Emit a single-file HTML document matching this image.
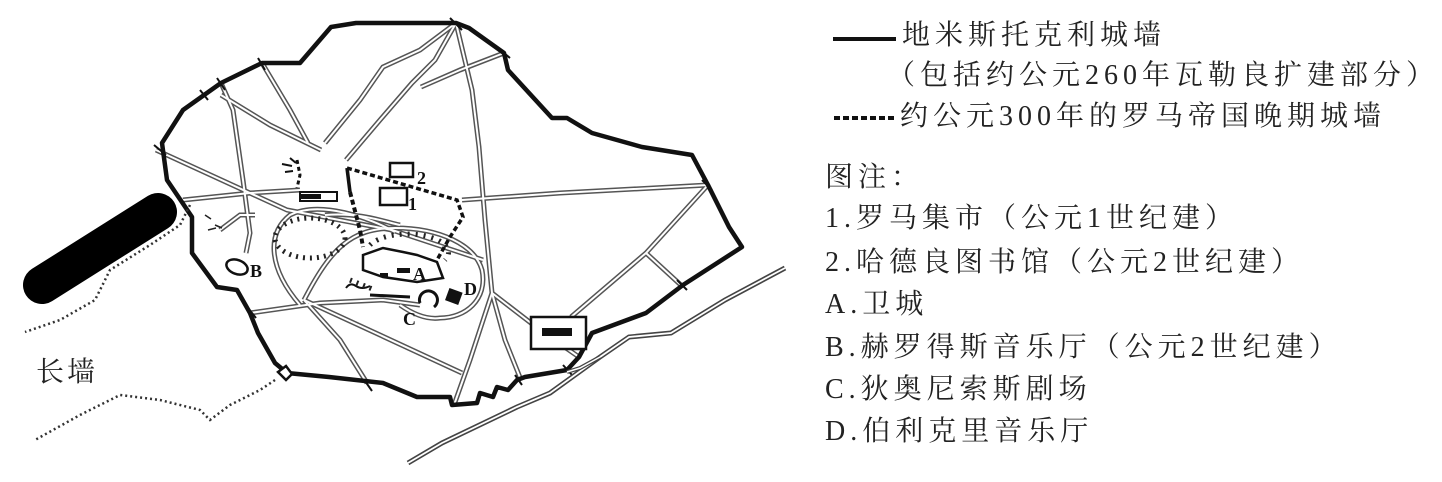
<!DOCTYPE html>
<html><head><meta charset="utf-8">
<style>
html,body{margin:0;padding:0;background:#fff;}
body{width:1442px;height:482px;position:relative;overflow:hidden;font-family:"Liberation Serif","Noto Serif CJK SC",serif;color:#222;}
.t{position:absolute;font-size:28px;letter-spacing:5px;white-space:nowrap;line-height:1;}
svg{position:absolute;left:0;top:0;}
.rd{fill:none;stroke:#555;stroke-width:5;}
.rw{fill:none;stroke:#fff;stroke-width:2;}
</style></head><body>
<svg width="1442" height="482" viewBox="0 0 1442 482">
<defs>
<g id="roads">
<path d="M156,150 L287,210 L392,230 L483,260"/>
<path d="M456,23 L472,90 L479,147 L485,220 L492,293 L470,360 L454,405"/>
<path d="M456,23 L420,50 L383,67 L360,100 L325,143"/>
<path d="M456,23 L435,60 L412,83 L380,120 L346,160"/>
<path d="M504,53 L460,70 L421,87"/>
<path d="M183,200 L250,193 L300,190"/>
<path d="M462,200 L560,193 L708,185"/>
<path d="M708,185 L646,253 L571,317"/>
<path d="M646,253 L683,287"/>
<path d="M250,313 L320,303 L383,300 L420,305"/>
<path d="M304,300 L380,335 L462,373"/>
<path d="M304,300 L340,340 L367,383"/>
<path d="M492,293 L505,340 L521,380"/>
<path d="M492,293 L540,330 L579,357"/>
<path d="M221,83 L233,110 L243,180 L250,233 L246,253"/>
<path d="M262,63 L290,110 L308,143"/>
<path d="M221,95 L270,125 L321,150"/>
<path d="M220,230 L240,215 L255,215"/>
<path d="M300,305 C 270,270 265,235 290,215 C 320,200 370,218 395,232"/>
<path d="M304,300 C 330,250 350,228 395,228 C 440,228 475,245 482,270 C 488,300 465,318 440,318 C 425,320 410,312 400,305"/>
<path d="M325,215 C 360,212 385,222 400,225"/>
</g>
</defs>
<use href="#roads" class="rd"/>
<use href="#roads" class="rw"/>
<path d="M331,27 L356,23 L456,23 L469,28 L504,53 L508,70 L552,118 L567,118 L592,133 L642,147 L692,155 L708,185 L729,227 L742,247 L683,285 L646,313 L592,333 L579,357 L567,370 L525,377 L517,380 L508,390 L497,387 L493,397 L480,393 L477,403 L452,405 L450,397 L417,397 L383,383 L329,377 L287,373 L275,363 L258,333 L250,313 L237,290 L217,287 L192,253 L192,217 L167,180 L162,143 L183,110 L221,83 L262,63 L300,63 Z" fill="none" stroke="#111" stroke-width="4.5" stroke-linejoin="round"/>
<g stroke="#111" stroke-width="2">
<path d="M450,18 L462,30 M498,48 L510,58 M258,58 L265,70 M217,78 L225,90 M200,90 L208,100 M154,145 L166,155 M702,180 L712,190 M677,280 L687,290 M248,308 L256,318 M365,381 L372,391 M563,365 L572,375 M515,375 L522,385"/>
</g>
<path d="M347,168 L457,200 L463,217 L450,237 L437,260" fill="none" stroke="#111" stroke-width="3.5" stroke-dasharray="5,3"/>
<path d="M347,168 L350,192" fill="none" stroke="#111" stroke-width="3.5"/>
<path d="M350,192 L360,230 L363,247" fill="none" stroke="#111" stroke-width="4" stroke-dasharray="5,3"/>
<path d="M297,160 L300,175 L297,188" fill="none" stroke="#111" stroke-width="3" stroke-dasharray="4,3"/>
<path d="M282,164 L292,166 M285,172 L293,171 M290,158 L296,163" stroke="#111" stroke-width="2"/>
<rect x="390" y="163" width="23" height="14" fill="none" stroke="#111" stroke-width="2.5"/>
<rect x="380" y="188" width="27" height="17" fill="none" stroke="#111" stroke-width="2.5"/>
<rect x="300" y="192" width="37" height="9" fill="none" stroke="#111" stroke-width="2"/>
<rect x="301" y="194" width="20" height="5" fill="#111"/>
<path d="M363,255 L383,248 L403,252 L417,255 L437,262 L443,278 L417,282 L383,277 L363,270 Z" fill="none" stroke="#111" stroke-width="2.5"/>
<rect x="397" y="268" width="13" height="5" fill="#111"/>
<rect x="380" y="273" width="8" height="4" fill="#111"/>
<path d="M370,295 L410,297" stroke="#111" stroke-width="3"/>
<path d="M346,288 q4,-6 10,-2 q6,4 14,0" fill="none" stroke="#111" stroke-width="2"/>
<path d="M420,303 a9,9 0 1 1 14,4" fill="none" stroke="#111" stroke-width="3"/>
<rect x="447" y="290" width="14" height="13" fill="#111" transform="rotate(20 454 296)"/>
<ellipse cx="237" cy="267" rx="11" ry="7" fill="none" stroke="#111" stroke-width="2.5" transform="rotate(20 237 267)"/>
<g stroke="#222" stroke-width="1.5">
<ellipse cx="310" cy="238" rx="35" ry="20" fill="none" stroke-dasharray="2,5" stroke-width="5"/>
<path d="M370,245 a40,18 0 0 1 75,15" fill="none" stroke-dasharray="2,6" stroke-width="5"/>
<path d="M350,280 L375,290" stroke-dasharray="2,5" stroke-width="5"/>
<path d="M205,215 l6,4 M208,230 l8,-2 M215,225 l7,3"/>
</g>
<g font-family="Liberation Serif" font-weight="bold" font-size="18" fill="#111">
<text x="417" y="184">2</text><text x="408" y="210">1</text>
<text x="413" y="280">A</text><text x="250" y="277">B</text>
<text x="403" y="325">C</text><text x="464" y="295">D</text>
</g>
<line x1="42" y1="285" x2="158" y2="212" stroke="#000" stroke-width="38" stroke-linecap="round"/>
<path d="M190,205 L180,225 L150,245 L110,270 L95,300 L60,320 L25,332" fill="none" stroke="#333" stroke-width="2.5" stroke-dasharray="2,3"/>
<path d="M275,380 L260,390 L230,405 L210,420 L200,410 L160,400 L120,395 L80,415 L35,440" fill="none" stroke="#333" stroke-width="2.5" stroke-dasharray="2,3"/>
<path d="M278,372 l8,-6 l6,8 l-6,6 z" fill="#fff" stroke="#111" stroke-width="2.5"/>
<g fill="none">
<path id="rv" d="M785,268 L725,300 L671,333 L629,337 L600,357 L550,393 L517,407 L442,443 L408,463" stroke="#444" stroke-width="5"/>
<path d="M785,268 L725,300 L671,333 L629,337 L600,357 L550,393 L517,407 L442,443 L408,463" stroke="#fff" stroke-width="1.8"/>
<path d="M600,357 L580,368 L567,372" stroke="#444" stroke-width="4"/>
<path d="M600,357 L580,368 L567,372" stroke="#fff" stroke-width="1.5"/>
</g>
<rect x="531" y="317" width="55" height="32" fill="#fff" stroke="#111" stroke-width="2.5"/>
<rect x="542" y="328" width="30" height="8" fill="#111"/>
<line x1="833" y1="39" x2="896" y2="39" stroke="#111" stroke-width="4"/>
<line x1="834" y1="118" x2="896" y2="118" stroke="#111" stroke-width="4" stroke-dasharray="6,3"/>
</svg>
<div class="t" style="left:36px;top:356px;font-family:'Noto Serif CJK SC',serif;letter-spacing:3px;">长墙</div>
<div class="t" style="left:902px;top:22px;">地米斯托克利城墙</div>
<div class="t" style="left:887px;top:62px;">（包括约公元260年瓦勒良扩建部分）</div>
<div class="t" style="left:900px;top:103px;">约公元300年的罗马帝国晚期城墙</div>
<div class="t" style="left:825px;top:164px;">图注：</div>
<div class="t" style="left:825px;top:205px;">1.罗马集市（公元1世纪建）</div>
<div class="t" style="left:825px;top:249px;">2.哈德良图书馆（公元2世纪建）</div>
<div class="t" style="left:825px;top:291px;">A.卫城</div>
<div class="t" style="left:825px;top:334px;">B.赫罗得斯音乐厅（公元2世纪建）</div>
<div class="t" style="left:825px;top:376px;">C.狄奥尼索斯剧场</div>
<div class="t" style="left:825px;top:418px;">D.伯利克里音乐厅</div>
</body></html>
